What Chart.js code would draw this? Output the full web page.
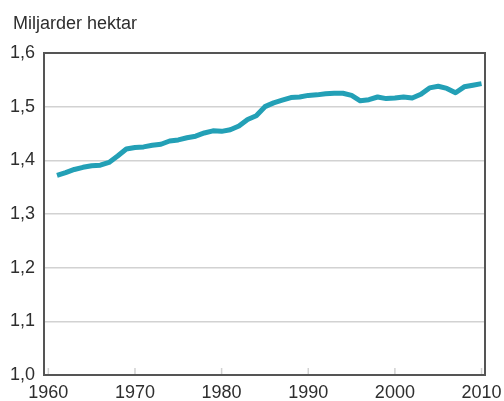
<!DOCTYPE html>
<html>
<head>
<meta charset="utf-8">
<script src="https://cdn.jsdelivr.net/npm/chart.js@4/dist/chart.umd.min.js"></script>
<style>
  html, body { margin: 0; padding: 0; background: #fff; }
  #wrap { position: relative; width: 504px; height: 401px; }
</style>
</head>
<body>
<div id="wrap"><canvas id="c" width="504" height="401"></canvas></div>
<script>
// Agricultural land, billions of hectares, 1961–2010
const years = [
  1961, 1962, 1963, 1964, 1965, 1966, 1967, 1968, 1969, 1970,
  1971, 1972, 1973, 1974, 1975, 1976, 1977, 1978, 1979, 1980,
  1981, 1982, 1983, 1984, 1985, 1986, 1987, 1988, 1989, 1990,
  1991, 1992, 1993, 1994, 1995, 1996, 1997, 1998, 1999, 2000,
  2001, 2002, 2003, 2004, 2005, 2006, 2007, 2008, 2009, 2010
];
const hectares = [
  1.372, 1.377, 1.383, 1.387, 1.390, 1.391, 1.396, 1.408, 1.421, 1.424,
  1.425, 1.428, 1.430, 1.436, 1.438, 1.442, 1.445, 1.451, 1.455, 1.454,
  1.457, 1.464, 1.476, 1.483, 1.500, 1.507, 1.512, 1.517, 1.518, 1.521,
  1.522, 1.524, 1.525, 1.525, 1.521, 1.511, 1.513, 1.518, 1.515, 1.516,
  1.518, 1.516, 1.523, 1.535, 1.538, 1.534, 1.526, 1.537, 1.540, 1.543
];
const xTicks = [1960, 1970, 1980, 1990, 2000, 2010];
const yTicks = [1.0, 1.1, 1.2, 1.3, 1.4, 1.5, 1.6];
const unitLabel = 'Miljarder hektar';

const FONT = '"Liberation Sans", Arial, sans-serif';
const TEXT = '#2e2e2e';
const AXIS = '#555555';
const GRID = '#d2d2d2';

// Unit label, frame and inward tick marks
const decor = {
  id: 'decor',
  afterDatasetsDraw(chart) {
    const { ctx, chartArea: a, scales } = chart;
    ctx.save();
    // inward x tick marks
    ctx.strokeStyle = GRID;
    ctx.lineWidth = 1.5;
    xTicks.forEach(t => {
      const x = scales.x.getPixelForValue(t);
      ctx.beginPath();
      ctx.moveTo(x, a.bottom);
      ctx.lineTo(x, a.bottom - 7);
      ctx.stroke();
    });
    // frame
    ctx.strokeStyle = AXIS;
    ctx.lineWidth = 2;
    ctx.strokeRect(a.left, a.top, a.right - a.left, a.bottom - a.top);
    // unit label
    ctx.fillStyle = TEXT;
    ctx.font = '18px ' + FONT;
    ctx.textBaseline = 'alphabetic';
    ctx.textAlign = 'left';
    ctx.fillText(unitLabel, 13, 29);
    ctx.restore();
  }
};

new Chart(document.getElementById('c'), {
  type: 'line',
  data: {
    datasets: [{
      data: years.map((y, i) => ({ x: y, y: hectares[i] })),
      borderColor: '#23a0b6',
      borderWidth: 5,
      pointRadius: 0,
      tension: 0,
      borderJoinStyle: 'round',
      fill: false
    }]
  },
  options: {
    responsive: false,
    animation: false,
    layout: { padding: { left: 0, right: 19, top: 53, bottom: 0 } },
    plugins: { legend: { display: false }, tooltip: { enabled: false } },
    scales: {
      x: {
        type: 'linear',
        min: 1959.5,
        max: 2010.4,
        afterBuildTicks(s) { s.ticks = xTicks.map(v => ({ value: v })); },
        afterFit(s) { s.height = 26; },
        grid: { display: false },
        border: { display: false },
        ticks: {
          color: TEXT,
          font: { family: FONT, size: 18 },
          padding: -1,
          maxRotation: 0,
          autoSkip: false,
          callback: v => String(v)
        }
      },
      y: {
        min: 1.0,
        max: 1.6,
        afterBuildTicks(s) { s.ticks = yTicks.map(v => ({ value: v })); },
        afterFit(s) { s.width = 44; },
        grid: { color: GRID, lineWidth: 1.5, drawTicks: false },
        border: { display: false },
        ticks: {
          color: TEXT,
          font: { family: FONT, size: 18 },
          padding: 9,
          callback: v => v.toFixed(1).replace('.', ',')
        }
      }
    }
  },
  plugins: [decor]
});
</script>
</body>
</html>
